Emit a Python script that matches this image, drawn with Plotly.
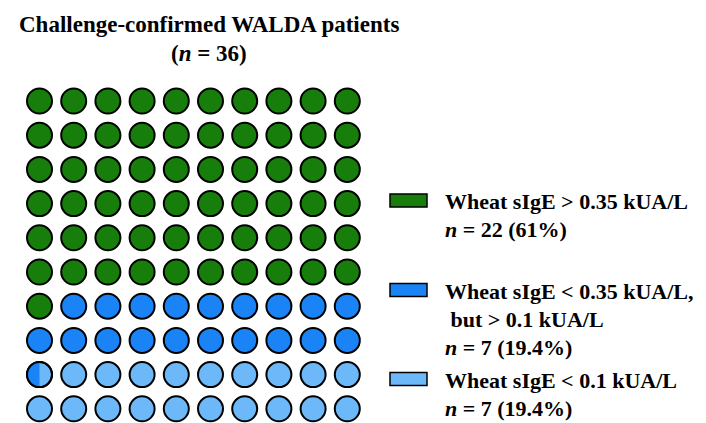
import numpy as np
import plotly.graph_objects as go

# ---- data ----
title_lines = ["<b>Challenge-confirmed WALDA patients</b>", "<b>(<i>n</i> = 36)</b>"]
categories = ["Wheat sIgE > 0.35 kUA/L",
              "Wheat sIgE < 0.35 kUA/L, but > 0.1 kUA/L",
              "Wheat sIgE < 0.1 kUA/L"]
counts = [22, 7, 7]
percents = [61.0, 19.4, 19.4]
legend_lines = [
    ["<b>Wheat sIgE > 0.35 kUA/L</b>", "<b><i>n</i> = 22 (61%)</b>"],
    ["<b>Wheat sIgE < 0.35 kUA/L,</b>", "<b> but > 0.1 kUA/L</b>", "<b><i>n</i> = 7 (19.4%)</b>"],
    ["<b>Wheat sIgE < 0.1 kUA/L</b>", "<b><i>n</i> = 7 (19.4%)</b>"],
]
colors = ["#177E0C", "#1A84F7", "#6DB8F8"]
n_rows, n_cols = 10, 10

W, H = 706, 423
FONT = "Liberation Serif"

# ---- waffle cell assignment (row-major, 100 cells) ----
bounds = np.cumsum([0] + percents[:-1])  # start of each category
cells_x, cells_y, cells_cat = [], [], []
partials = []  # (row, col, left_cat, right_cat, frac_left)
for k in range(n_rows * n_cols):
    r, c = divmod(k, n_cols)
    lo, hi = k, k + 1
    cat_lo = int(np.searchsorted(bounds, lo, side="right") - 1)
    cat_hi = int(np.searchsorted(bounds, hi - 1e-9, side="right") - 1)
    if cat_lo != cat_hi:
        frac = bounds[cat_hi] - lo
        frac = round(frac * 2) / 2  # partial cell drawn in half-cell steps
        partials.append((r, c, cat_lo, cat_hi, frac))
        cells_x.append(c); cells_y.append(r); cells_cat.append(cat_hi)
    else:
        cells_x.append(c); cells_y.append(r); cells_cat.append(cat_lo)

cells_x = np.array(cells_x); cells_y = np.array(cells_y); cells_cat = np.array(cells_cat)

# pixel geometry -> axis ranges (equal scale)
s = 34.2            # px per cell
cx0, cy0 = 31.5, 93.0
marker_size = 25
rad = (marker_size / 2) / s

fig = go.Figure()
for i, col in enumerate(colors):
    m = cells_cat == i
    fig.add_trace(go.Scatter(
        x=cells_x[m], y=cells_y[m], mode="markers",
        marker=dict(size=marker_size, color=col, line=dict(color="black", width=2)),
        hoverinfo="skip", showlegend=False))

# partially filled circles: left segment by area fraction
for (r, c, cl, cr, frac) in partials:
    def area_left(t):
        return (np.arcsin(t) + t * np.sqrt(1 - t * t) + np.pi / 2) / np.pi
    a, b = -1.0, 1.0
    for _ in range(60):
        mid = (a + b) / 2
        if area_left(mid) < frac:
            a = mid
        else:
            b = mid
    t = (a + b) / 2
    th0 = np.arccos(t)
    th = np.linspace(th0, 2 * np.pi - th0, 80)
    px = c + rad * np.cos(th)
    py = r + rad * np.sin(th)
    px = np.append(px, px[0]); py = np.append(py, py[0])
    fig.add_trace(go.Scatter(x=px, y=py, mode="lines", fill="toself",
                             fillcolor=colors[cl], line=dict(width=0),
                             hoverinfo="skip", showlegend=False))
    fig.add_trace(go.Scatter(x=[c], y=[r], mode="markers",
                             marker=dict(size=marker_size, color="rgba(0,0,0,0)",
                                         line=dict(color="black", width=2)),
                             hoverinfo="skip", showlegend=False))

def px2paper(x, y):
    return x / W, 1 - y / H

annotations = []
# title
for txt, yc in zip(title_lines, [17, 45]):
    xp, yp = px2paper(201, yc)
    annotations.append(dict(x=xp, y=yp, xref="paper", yref="paper", text=txt,
                            showarrow=False, xanchor="center", yanchor="middle",
                            font=dict(family=FONT, size=23, color="black")))

# legend
rect_centers = [192.5, 282, 371]
line_centers = [[193, 221], [283, 311, 339], [372, 400]]
shapes = []
for i in range(len(categories)):
    yc = rect_centers[i]
    x0p, y0p = px2paper(382, yc - 6.5)
    x1p, y1p = px2paper(419, yc + 6.5)
    shapes.append(dict(type="rect", xref="paper", yref="paper",
                       x0=x0p, x1=x1p, y0=y1p, y1=y0p,
                       fillcolor=colors[i], line=dict(color="black", width=1.5)))
    for txt, ly in zip(legend_lines[i], line_centers[i]):
        xp, yp = px2paper(435, ly)
        annotations.append(dict(x=xp, y=yp, xref="paper", yref="paper", text=txt,
                                showarrow=False, xanchor="left", yanchor="middle",
                                font=dict(family=FONT, size=22, color="black")))

fig.update_layout(
    width=W, height=H, margin=dict(l=0, r=0, t=0, b=0),
    paper_bgcolor="white", plot_bgcolor="white",
    xaxis=dict(range=[-cx0 / s, (W - cx0) / s], visible=False, fixedrange=True),
    yaxis=dict(range=[(H - cy0) / s, -cy0 / s], visible=False, fixedrange=True),
    annotations=annotations, shapes=shapes,
)
fig.write_html("out.html")
